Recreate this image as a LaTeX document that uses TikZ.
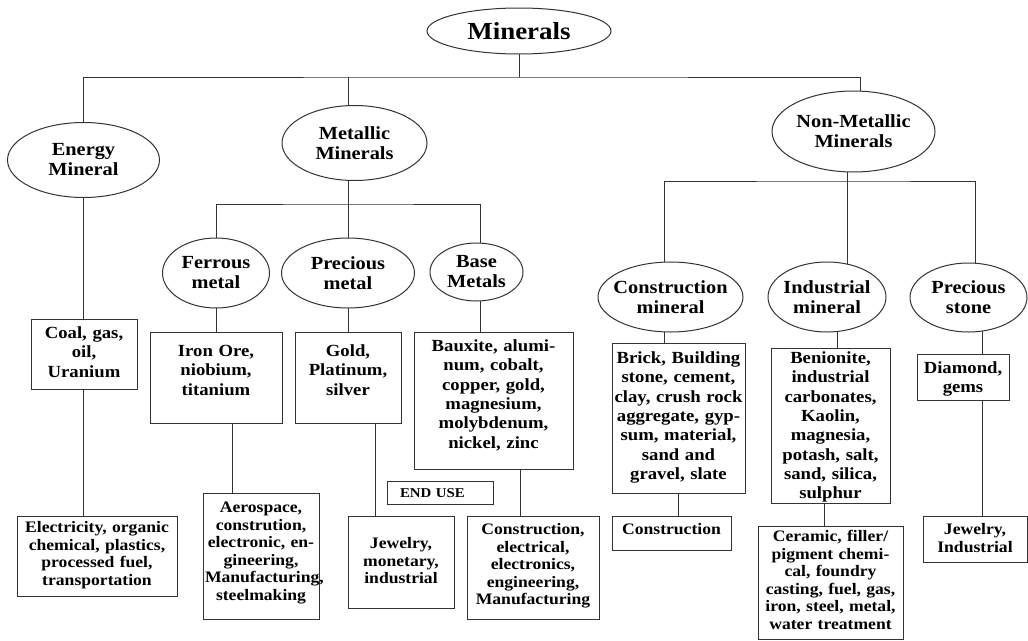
\documentclass[tikz,border=0pt]{standalone}
\usepackage{fontspec}
\usepackage{tikz}
\usetikzlibrary{shapes.geometric,positioning,backgrounds,calc}

\newfontfamily\diafont{Liberation Serif}[FakeStretch=1.1]
\newcommand{\headfont}{\diafont\bfseries\fontsize{24.5}{26}\selectfont}
\newcommand{\ovalfont}{\diafont\bfseries\fontsize{18.5}{20}\selectfont}
\newcommand{\topboxfont}{\diafont\bfseries\fontsize{17}{19.3}\selectfont}
\newcommand{\useboxfont}{\diafont\bfseries\fontsize{16}{17.5}\selectfont}
\newcommand{\tagfont}{\diafont\bfseries\fontsize{13.5}{15}\selectfont}

\tikzset{
  link/.style={draw=black!80, line width=1pt},
  oval/.style={ellipse, link, fill=white, align=center, font=\ovalfont,
    inner xsep=-30pt, inner ysep=-20pt},
  leafbox/.style={rectangle, link, fill=white, anchor=north, align=center,
    inner xsep=2pt, text height=12pt, font=\topboxfont},
  usebox/.style={leafbox, font=\useboxfont}
}

\begin{document}
\begin{tikzpicture}[x=1pt, y=-1pt]
  \useasboundingbox (0,0) rectangle (1028,640);

  % classes
  \node[oval, minimum width=184pt, minimum height=46pt, font=\headfont] (minerals) at (519,31) {Minerals};
  \node[oval, minimum width=152pt, minimum height=75pt] (energy) at (83.5,160) {Energy\\Mineral};
  \node[oval, minimum width=145pt, minimum height=75pt] (metal) at (354.5,143) {Metallic\\Minerals};
  \node[oval, minimum width=163pt, minimum height=81pt] (nonmet) at (853.5,131.5) {Non-Metallic\\Minerals};

  \node[oval, minimum width=107pt, minimum height=70pt] (ferrous) at (216,273) {Ferrous\\metal};
  \node[oval, minimum width=133pt, minimum height=70pt] (precm) at (348,273) {Precious\\metal};
  \node[oval, minimum width=93pt, minimum height=58pt] (base) at (476.5,272) {Base\\Metals};
  \node[oval, minimum width=145pt, minimum height=70pt] (constr) at (670.5,297) {Construction\\mineral};
  \node[oval, minimum width=118pt, minimum height=70pt] (indus) at (827,297) {Industrial\\mineral};
  \node[oval, minimum width=117pt, minimum height=69pt] (pstone) at (968.5,297.5) {Precious\\stone};

  % minerals
  \node[leafbox, text width=102pt, inner ysep=7pt, text depth=44pt] (coal) at (84,319) {Coal, gas,\\oil,\\Uranium};
  \node[leafbox, text width=128pt, inner ysep=12pt, text depth=55pt] (iron) at (216,332) {Iron Ore,\\niobium,\\titanium};
  \node[leafbox, text width=102pt, inner ysep=12pt, text depth=55pt] (gold) at (348,332) {Gold,\\Platinum,\\silver};
  \node[leafbox, text width=155pt, inner ysep=7pt, text depth=111pt] (baux) at (493.5,332) {Bauxite, alumi-\\num, cobalt,\\copper, gold,\\magnesium,\\molybdenum,\\nickel, zinc};
  \node[leafbox, text width=129pt, inner ysep=8pt, text depth=122pt] (brick) at (678.5,343) {Brick, Building\\stone, cement,\\clay, crush rock\\aggregate, gyp-\\sum, material,\\sand and\\gravel, slate};
  \node[leafbox, text width=115pt, inner ysep=3pt, text depth=137pt] (beni) at (830.5,348) {Benionite,\\industrial\\carbonates,\\Kaolin,\\magnesia,\\potash, salt,\\sand, silica,\\sulphur};
  \node[leafbox, text width=88pt, inner ysep=7pt, text depth=20pt] (diam) at (963,354) {Diamond,\\gems};

  % end use
  \node[leafbox, align=left, font=\tagfont, text width=80pt, inner xsep=13pt, inner ysep=4pt, text depth=3pt] (enduse) at (440,481) {END USE};
  \node[usebox, text width=156pt, inner ysep=4pt, text depth=60pt] (elec) at (97,516) {Electricity, organic\\chemical, plastics,\\processed fuel,\\transportation};
  \node[usebox, text width=112pt, inner ysep=7pt, text depth=100pt] (aero) at (261,493) {Aerospace,\\constrution,\\electronic, en-\\gineering,\\Manufacturing,\\steelmaking};
  \node[usebox, text width=102pt, inner ysep=20pt, text depth=40pt] (jewm) at (401,516) {Jewelry,\\monetary,\\industrial};
  \node[usebox, text width=128pt, inner ysep=6pt, text depth=79pt] (cele) at (533,516) {Construction,\\electrical,\\electronics,\\engineering,\\Manufacturing};
  \node[usebox, text width=115pt, inner ysep=6pt, text depth=10pt] (csml) at (671.5,516) {Construction};
  \node[usebox, text width=141pt, inner ysep=3pt, text depth=95pt] (cera) at (830.5,526) {Ceramic, filler/\\pigment chemi-\\cal, foundry\\casting, fuel, gas,\\iron, steel, metal,\\water treatment};
  \node[usebox, text width=100pt, inner ysep=6pt, text depth=22pt] (jewi) at (975,516) {Jewelry,\\Industrial};

  % junctions
  \coordinate (bus0) at (519,77);
  \coordinate (bus1) at (348,204);
  \coordinate (bus2) at (847,181);
  \coordinate (metx) at ([xshift=-6.5pt]metal.center);
  \coordinate (nmin) at ([xshift=6.5pt]nonmet.center);
  \coordinate (nmout) at ([xshift=-6.5pt]nonmet.center);
  \coordinate (basex) at ([xshift=3.5pt]base.center);
  \coordinate (conx) at ([xshift=-6.5pt]constr.center);
  \coordinate (indx) at ([xshift=20pt]indus.center);
  \coordinate (indlow) at ([xshift=10pt]indus.center);
  \coordinate (stonex) at ([xshift=6.5pt]pstone.center);
  \coordinate (stonelow) at ([xshift=14pt]pstone.center);
  \coordinate (ironx) at ([xshift=16pt]iron.south);
  \coordinate (goldx) at ([xshift=27pt]gold.south);
  \coordinate (bauxx) at ([xshift=26.5pt]baux.south);
  \coordinate (benix) at ([xshift=-6.5pt]beni.south);

  \begin{scope}[on background layer, every path/.style=link]
    \draw (minerals.center) -- (bus0);
    \draw (energy.center) |- (bus0) -| (nmin);
    \draw (metx) -- (metx |- bus0);
    \draw (metx) -- (bus1);
    \draw (ferrous.center) |- (bus1) -| (basex);
    \draw (precm.center) -- (bus1);
    \draw (nmout) -- (bus2);
    \draw (conx) |- (bus2) -| (stonex);
    \draw (bus2) -- (indx);

    \draw (energy.center) -- (energy.center |- elec.north);
    \draw (ferrous.center) -- (ferrous.center |- iron.north);
    \draw (ironx) -- (ironx |- aero.north);
    \draw (precm.center) -- (precm.center |- gold.north);
    \draw (goldx) -- (goldx |- jewm.north);
    \draw (basex) -- (basex |- baux.north);
    \draw (bauxx) -- (bauxx |- cele.north);
    \draw (conx) -- (conx |- brick.north);
    \draw (brick.south) -- (brick.south |- csml.north);
    \draw (indlow) -- (indlow |- beni.north);
    \draw (benix) -- (benix |- cera.north);
    \draw (stonelow) -- (stonelow |- jewi.north);
  \end{scope}
\end{tikzpicture}
\end{document}
